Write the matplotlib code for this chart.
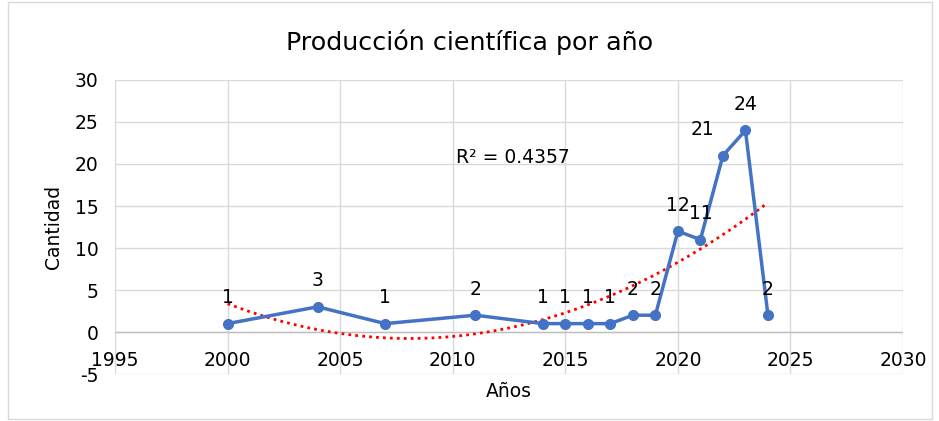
import numpy as np
import matplotlib
matplotlib.use("Agg")
import matplotlib.pyplot as plt
from matplotlib.patches import Rectangle

years = [2000, 2004, 2007, 2011, 2014, 2015, 2016, 2017, 2018, 2019, 2020, 2021, 2022, 2023, 2024]
counts = [1, 3, 1, 2, 1, 1, 1, 1, 2, 2, 12, 11, 21, 24, 2]
title = "Producción científica por año"
xlabel = "Años"
ylabel = "Cantidad"

plt.rcParams['font.family'] = ['DejaVu Sans']
plt.rcParams['axes.unicode_minus'] = False
fig = plt.figure(figsize=(9.39, 4.21), dpi=100)
fig.patches.append(Rectangle((0.008, 0.005), 0.985, 0.99, transform=fig.transFigure,
                             fill=False, edgecolor='#d9d9d9', linewidth=1))
ax = fig.add_axes([0.1225, 0.1116, 0.8392, 0.6984])

FS = 13.5
x = np.array(years, dtype=float)
y = np.array(counts, dtype=float)
coef = np.polyfit(x, y, 2)
fit = np.polyval(coef, x)
r2 = 1 - np.sum((y - fit) ** 2) / np.sum((y - y.mean()) ** 2)
xs = np.linspace(x.min(), x.max(), 200)
ax.plot(xs, np.polyval(coef, xs), color='red', linestyle=(0, (1, 1.5)), linewidth=2, zorder=3)

ax.plot(x, y, color='#4472C4', linewidth=2.5, marker='o', markersize=7, zorder=4)

for xi, yi in zip(years, counts):
    dx = -15 if yi == 21 else 0
    ax.annotate(str(yi), (xi, yi), xytext=(dx, 12), textcoords='offset points',
                ha='center', va='bottom', fontsize=FS, color='black', zorder=5)

ax.text(2012.65, 20.8, f"R² = {r2:.4f}", ha='center', va='center', fontsize=FS)

ax.set_xlim(1995, 2030)
ax.set_ylim(-5, 30)
ax.set_xticks(range(1995, 2031, 5))
ax.set_yticks(range(-5, 31, 5))
ax.grid(True, color='#d9d9d9', linewidth=1)
ax.set_axisbelow(True)
for s in ax.spines.values():
    s.set_visible(False)
ax.axhline(0, color='#bfbfbf', linewidth=1, zorder=1)
ax.tick_params(length=0, labelsize=FS)
ax.tick_params(axis='y', pad=12)
ax.set_xticklabels([])
for t in range(1995, 2031, 5):
    ax.annotate(str(t), (t, 0), xytext=(0, -14), textcoords='offset points',
                ha='center', va='top', fontsize=FS, annotation_clip=False)

ax.set_ylabel(ylabel, fontsize=FS, labelpad=8)
ax.set_xlabel(xlabel, fontsize=FS, labelpad=2)
fig.text(0.5, 0.9, title, ha='center', va='center', fontsize=18.3)

fig.savefig("out.png", dpi=100)
